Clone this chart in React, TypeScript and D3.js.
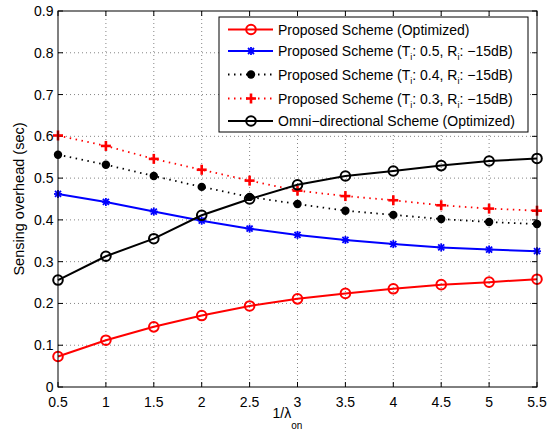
import React from "react";
import * as d3 from "d3";

// x values: 1/lambda_on
const xValues = [0.5, 1, 1.5, 2, 2.5, 3, 3.5, 4, 4.5, 5, 5.5];

// Sensing overhead (sec) per scheme
const proposedOptimized = [0.073, 0.112, 0.144, 0.171, 0.194, 0.211, 0.224, 0.235, 0.245, 0.251, 0.258];
const proposedT05 = [0.462, 0.443, 0.420, 0.398, 0.379, 0.364, 0.352, 0.342, 0.334, 0.329, 0.325];
const proposedT04 = [0.556, 0.532, 0.505, 0.479, 0.455, 0.438, 0.422, 0.412, 0.402, 0.395, 0.390];
const proposedT03 = [0.602, 0.577, 0.546, 0.520, 0.494, 0.470, 0.457, 0.447, 0.435, 0.427, 0.422];
const omniOptimized = [0.256, 0.313, 0.355, 0.411, 0.450, 0.484, 0.505, 0.517, 0.530, 0.541, 0.547];

const xTicks = [0.5, 1, 1.5, 2, 2.5, 3, 3.5, 4, 4.5, 5, 5.5];
const yTicks = [0, 0.1, 0.2, 0.3, 0.4, 0.5, 0.6, 0.7, 0.8, 0.9];

type Marker = "circle" | "star" | "dot" | "plus";
interface Series {
  values: number[];
  color: string;
  dotted: boolean;
  marker: Marker;
  label: React.ReactNode;
}

const FONT = "Arial, 'Liberation Sans', Helvetica, sans-serif";

const subLabel = (t: string) => (
  <>
    Proposed Scheme (T<tspan fontSize={9} dy={4}>i</tspan>
    <tspan dy={-4}>{`: ${t}, R`}</tspan>
    <tspan fontSize={9} dy={4}>i</tspan>
    <tspan dy={-4}>: −15dB)</tspan>
  </>
);

const series: Series[] = [
  { values: proposedOptimized, color: "#ff0000", dotted: false, marker: "circle", label: "Proposed Scheme (Optimized)" },
  { values: proposedT05, color: "#0000ff", dotted: false, marker: "star", label: subLabel("0.5") },
  { values: proposedT04, color: "#000000", dotted: true, marker: "dot", label: subLabel("0.4") },
  { values: proposedT03, color: "#ff0000", dotted: true, marker: "plus", label: subLabel("0.3") },
  { values: omniOptimized, color: "#000000", dotted: false, marker: "circle", label: "Omni−directional Scheme (Optimized)" },
];

const width = 553;
const height = 432;
const plot = { left: 58, right: 537, top: 11, bottom: 387 };

function MarkerShape({ type, x, y, color }: { type: Marker; x: number; y: number; color: string }) {
  if (type === "circle") {
    return <circle cx={x} cy={y} r={4.8} fill="none" stroke={color} strokeWidth={2} />;
  }
  if (type === "dot") {
    return <circle cx={x} cy={y} r={4.2} fill={color} />;
  }
  if (type === "plus") {
    const s = 5;
    return (
      <g stroke={color} strokeWidth={2.6}>
        <line x1={x - s} y1={y} x2={x + s} y2={y} />
        <line x1={x} y1={y - s} x2={x} y2={y + s} />
      </g>
    );
  }
  const s = 4;
  const d = s * 0.75;
  return (
    <g stroke={color} strokeWidth={1.8}>
      <line x1={x - s} y1={y} x2={x + s} y2={y} />
      <line x1={x} y1={y - s} x2={x} y2={y + s} />
      <line x1={x - d} y1={y - d} x2={x + d} y2={y + d} />
      <line x1={x - d} y1={y + d} x2={x + d} y2={y - d} />
    </g>
  );
}

export default function App() {
  const x = d3.scaleLinear().domain([0.5, 5.5]).range([plot.left, plot.right]);
  const y = d3.scaleLinear().domain([0, 0.9]).range([plot.bottom, plot.top]);
  const line = d3
    .line<number>()
    .x((_, i) => x(xValues[i]))
    .y((d) => y(d));

  const legend = { x: 219, y: 17, w: 309, h: 115 };
  const rowY = [29.5, 51, 74.5, 98.5, 121];

  return (
    <svg width={width} height={height} style={{ position: "absolute", left: 0, top: 0, background: "#fff" }} fontFamily={FONT}>
      <rect x={0} y={0} width={width} height={height} fill="#fff" />
      {/* grid */}
      <g stroke="#000" strokeWidth={0.6} strokeDasharray="1,3" opacity={0.8}>
        {xTicks.slice(1, -1).map((t) => (
          <line key={"gx" + t} x1={x(t)} x2={x(t)} y1={plot.top} y2={plot.bottom} />
        ))}
        {yTicks.slice(1, -1).map((t) => (
          <line key={"gy" + t} x1={plot.left} x2={plot.right} y1={y(t)} y2={y(t)} />
        ))}
      </g>
      {/* ticks on all four sides */}
      <g stroke="#000" strokeWidth={1}>
        {xTicks.map((t) => (
          <g key={"tx" + t}>
            <line x1={x(t)} x2={x(t)} y1={plot.bottom} y2={plot.bottom - 5} />
            <line x1={x(t)} x2={x(t)} y1={plot.top} y2={plot.top + 5} />
          </g>
        ))}
        {yTicks.map((t) => (
          <g key={"ty" + t}>
            <line x1={plot.left} x2={plot.left + 5} y1={y(t)} y2={y(t)} />
            <line x1={plot.right} x2={plot.right - 5} y1={y(t)} y2={y(t)} />
          </g>
        ))}
      </g>
      {/* series */}
      {series.map((s, si) => (
        <g key={"s" + si}>
          <path
            d={line(s.values) || ""}
            fill="none"
            stroke={s.color}
            strokeWidth={s.dotted ? 1.8 : 2}
            strokeDasharray={s.dotted ? "1.5,4.5" : undefined}
          />
          {s.values.map((v, i) => (
            <MarkerShape key={i} type={s.marker} x={x(xValues[i])} y={y(v)} color={s.color} />
          ))}
        </g>
      ))}
      {/* axes frame */}
      <rect x={plot.left} y={plot.top} width={plot.right - plot.left} height={plot.bottom - plot.top} fill="none" stroke="#000" strokeWidth={1} />
      {/* tick labels */}
      <g fontSize={14} fill="#000">
        {xTicks.map((t) => (
          <text key={"lx" + t} x={x(t)} y={406.5} textAnchor="middle">
            {d3.format("")(t)}
          </text>
        ))}
        {yTicks.map((t) => (
          <text key={"ly" + t} x={53.5} y={y(t) + 5} textAnchor="end">
            {d3.format("")(t)}
          </text>
        ))}
      </g>
      {/* axis titles */}
      <text x={272.5} y={418} fontSize={14} fill="#000">
        1/λ<tspan fontSize={10} dy={10.5}>on</tspan>
      </text>
      <text transform="translate(24,199) rotate(-90)" textAnchor="middle" fontSize={14.5} fill="#000">
        Sensing overhead (sec)
      </text>
      {/* legend */}
      <rect x={legend.x} y={legend.y} width={legend.w} height={legend.h} fill="#fff" stroke="#000" strokeWidth={1} />
      {series.map((s, i) => (
        <g key={"lg" + i}>
          <line
            x1={228}
            x2={273}
            y1={rowY[i]}
            y2={rowY[i]}
            stroke={s.color}
            strokeWidth={s.dotted ? 1.8 : 2}
            strokeDasharray={s.dotted ? "1.5,4.5" : undefined}
          />
          <MarkerShape type={s.marker} x={251} y={rowY[i]} color={s.color} />
          <text x={278} y={rowY[i] + 5} fontSize={14} fill="#000">
            {s.label}
          </text>
        </g>
      ))}
    </svg>
  );
}
